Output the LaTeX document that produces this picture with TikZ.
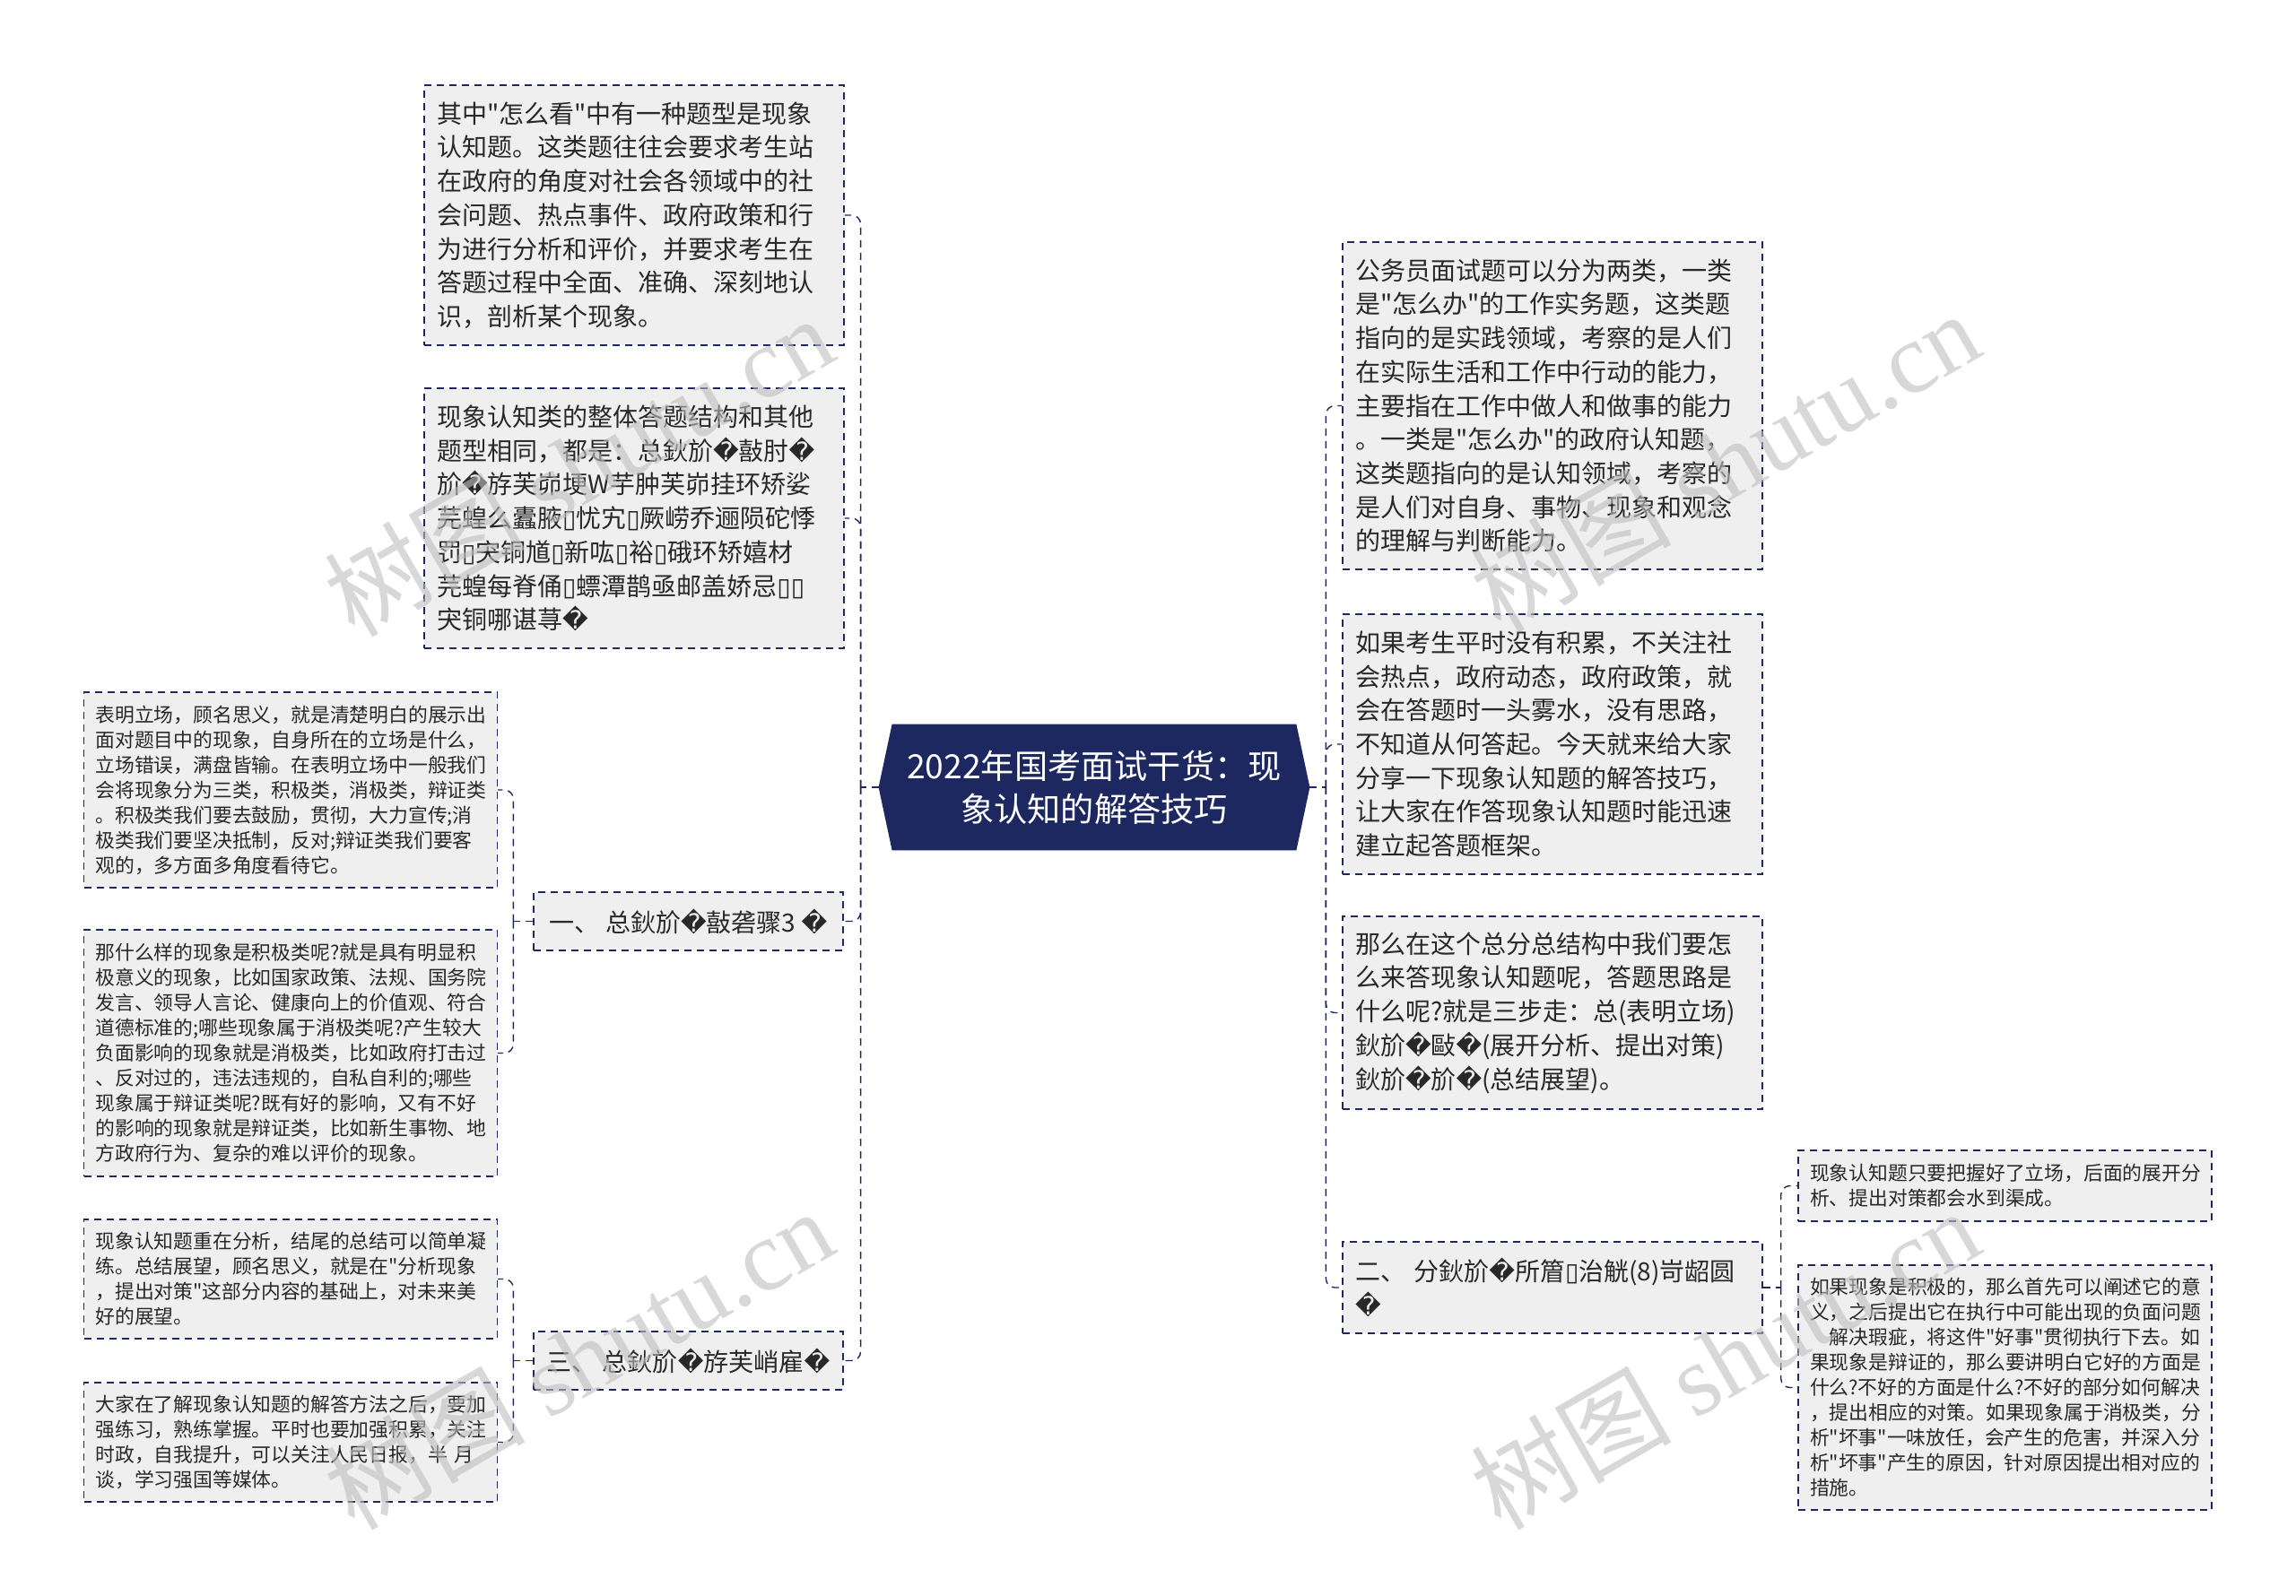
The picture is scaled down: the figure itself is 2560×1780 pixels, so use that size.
\documentclass[tikz,border=0pt]{standalone}
\usepackage{fontspec}
\setmainfont{Noto Sans CJK SC}
\newfontfamily\dvfont{DejaVu Sans}
\newfontfamily\wmfont{Liberation Serif}
\newfontfamily\qfont{Noto Sans CJK SC}
\usetikzlibrary{backgrounds}
\definecolor{navy}{RGB}{29,39,96}
\definecolor{boxgray}{RGB}{239,239,239}
\definecolor{ink}{RGB}{40,40,40}
\definecolor{wmgray}{RGB}{190,190,190}
\newcommand{\repch}{{\dvfont\symbol{"FFFD}}}
\newcommand{\boxch}{{\dvfont\symbol{"25AF}}}
\newcommand{\dq}{{\qfont\symbol{34}}}
\begin{document}
\begin{tikzpicture}[x=0.5pt, y=-0.5pt,
    dashbox/.style={draw=navy, line width=0.7pt, dash pattern=on 4pt off 3pt, fill=boxgray, inner ysep=0pt},
    big node/.style={dashbox, align=left, font=\fontsize{14}{18.85}\selectfont, inner xsep=7pt, text width=220pt},
    small node/.style={dashbox, align=left, font=\fontsize{10.9}{14}\selectfont, inner xsep=6.5pt, text width=217.5pt},
    branch node/.style={dashbox, font=\fontsize{14}{18.85}\selectfont, minimum width=172.5pt, minimum height=32.5pt},
    root node/.style={text=white, align=center, font=\fontsize{18.6}{24}\selectfont, minimum width=240pt, minimum height=70pt},
    link/.style={draw=navy, line width=0.7pt, dash pattern=on 4pt off 3pt, rounded corners=5pt},
    watermark/.style={rotate=30, text=wmgray, opacity=0.6, font=\fontsize{56}{56}\selectfont}]
  \tikzstyle{every node}=[text=ink]
  \useasboundingbox (0,0) rectangle (2560,1780);

  \node[root node] (root) at (1220,878) {2022年国考面试干货：现\\象认知的解答技巧};

  \node[big node, minimum height=145pt] (view) at (707,240) {其中\dq{}怎么看\dq{}中有一种题型是现象\\
认知题。这类题往往会要求考生站\\
在政府的角度对社会各领域中的社\\
会问题、热点事件、政府政策和行\\
为进行分析和评价，并要求考生在\\
答题过程中全面、准确、深刻地认\\
识，剖析某个现象。};
  \node[big node, minimum height=145pt] (frame) at (707,578) {现象认知类的整体答题结构和其他\\
题型相同，都是：总鈥斺\repch 敼肘\repch\\
斺\repch 斿芙峁埂W芋肿芙峁挂环矫娑\\
芫蝗么蠹腋\boxch 忧宄\boxch 厥崂乔逦陨砣悸\\
罚\boxch 宊铜馗\boxch 新吰\boxch 裕\boxch 硪环矫嬉材\\
芫蝗每脊俑\boxch 螵潭鹊亟邮盖娇忌\boxch\boxch\\
宊铜哪谌荨\repch};
  \node[branch node] (stepone) at (767.5,1027.5) {一、 总鈥斺\repch 敼砻骤3 \repch};
  \node[small node, minimum height=109pt] (stance) at (324,881) {表明立场，顾名思义，就是清楚明白的展示出\\
面对题目中的现象，自身所在的立场是什么，\\
立场错误，满盘皆输。在表明立场中一般我们\\
会将现象分为三类，积极类，消极类，辩证类\\
。积极类我们要去鼓励，贯彻，大力宣传;消\\
极类我们要坚决抵制，反对;辩证类我们要客\\
观的，多方面多角度看待它。};
  \node[small node, minimum height=137.5pt] (kinds) at (324,1174.5) {那什么样的现象是积极类呢?就是具有明显积\\
极意义的现象，比如国家政策、法规、国务院\\
发言、领导人言论、健康向上的价值观、符合\\
道德标准的;哪些现象属于消极类呢?产生较大\\
负面影响的现象就是消极类，比如政府打击过\\
、反对过的，违法违规的，自私自利的;哪些\\
现象属于辩证类呢?既有好的影响，又有不好\\
的影响的现象就是辩证类，比如新生事物、地\\
方政府行为、复杂的难以评价的现象。};
  \node[branch node] (stepthree) at (767.5,1517.5) {三、 总鈥斺\repch 斿芙峭雇\repch};
  \node[small node, minimum height=66.5pt] (outlook) at (324,1426.5) {现象认知题重在分析，结尾的总结可以简单凝\\
练。总结展望，顾名思义，就是在\dq{}分析现象\\
，提出对策\dq{}这部分内容的基础上，对未来美\\
好的展望。};
  \node[small node, minimum height=66.5pt] (practice) at (324,1608.5) {大家在了解现象认知题的解答方法之后，要加\\
强练习，熟练掌握。平时也要加强积累，关注\\
时政，自我提升，可以关注人民日报，半 月\\
谈，学习强国等媒体。};

  \node[big node, minimum height=182.5pt] (types) at (1731,452.5) {公务员面试题可以分为两类，一类\\
是\dq{}怎么办\dq{}的工作实务题，这类题\\
指向的是实践领域，考察的是人们\\
在实际生活和工作中行动的能力，\\
主要指在工作中做人和做事的能力\\
。一类是\dq{}怎么办\dq{}的政府认知题，\\
这类题指向的是认知领域，考察的\\
是人们对自身、事物、现象和观念\\
的理解与判断能力。};
  \node[big node, minimum height=145pt] (intro) at (1731,830) {如果考生平时没有积累，不关注社\\
会热点，政府动态，政府政策，就\\
会在答题时一头雾水，没有思路，\\
不知道从何答起。今天就来给大家\\
分享一下现象认知题的解答技巧，\\
让大家在作答现象认知题时能迅速\\
建立起答题框架。};
  \node[big node, minimum height=107.5pt] (steps) at (1731,1129.5) {那么在这个总分总结构中我们要怎\\
么来答现象认知题呢，答题思路是\\
什么呢?就是三步走：总(表明立场)\\
鈥斺\repch 敺\repch(展开分析、提出对策)\\
鈥斺\repch 斺\repch(总结展望)。};
  \node[big node, minimum height=51pt] (steptwo) at (1731,1436) {二、 分鈥斺\repch 所篃\boxch 治觥(8)岢龆圆\\
\repch};
  \node[small node, minimum height=39.5pt] (analyse) at (2235.5,1322.5) {现象认知题只要把握好了立场，后面的展开分\\
析、提出对策都会水到渠成。};
  \node[small node, minimum height=136.5pt] (cases) at (2235.5,1547.5) {如果现象是积极的，那么首先可以阐述它的意\\
义，之后提出它在执行中可能出现的负面问题\\
\hspace*{1em}解决瑕疵，将这件\dq{}好事\dq{}贯彻执行下去。如\\
果现象是辩证的，那么要讲明白它好的方面是\\
什么?不好的方面是什么?不好的部分如何解决\\
，提出相应的对策。如果现象属于消极类，分\\
析\dq{}坏事\dq{}一味放任，会产生的危害，并深入分\\
析\dq{}坏事\dq{}产生的原因，针对原因提出相对应的\\
措施。};

  \begin{pgfonlayer}{background}
    \fill[white] (0,0) rectangle (2560,1780);
    \fill[navy] ([xshift=7.5pt]root.north west) -- ([xshift=-7.5pt]root.north east) -- (root.east)
      -- ([xshift=-7.5pt]root.south east) -- ([xshift=7.5pt]root.south west) -- (root.west) -- cycle;
  \end{pgfonlayer}

  \coordinate (lj) at ([xshift=-10pt]root.west);
  \coordinate (oj) at ([xshift=-11pt]stepone.west);
  \coordinate (tj) at ([xshift=-11pt]stepthree.west);
  \coordinate (rj) at ([xshift=9pt]root.east);
  \coordinate (wj) at ([xshift=10pt]steptwo.east);

  \draw[link] (root.west) -- (lj);
  \foreach \n in {view,frame,stepone,stepthree}
    \draw[link] (lj) |- (\n.east);
  \draw[link] (stepone.west) -- (oj);
  \foreach \n in {stance,kinds}
    \draw[link] (oj) |- (\n.east);
  \draw[link] (stepthree.west) -- (tj);
  \foreach \n in {outlook,practice}
    \draw[link] (tj) |- (\n.east);
  \draw[link] (root.east) -- (rj);
  \foreach \n in {types,intro,steps,steptwo}
    \draw[link] (rj) |- (\n.west);
  \draw[link] (steptwo.east) -- (wj);
  \foreach \n in {analyse,cases}
    \draw[link] (wj) |- (\n.west);

  \foreach \x/\y in {645/519,1923/514,645/1515,1923/1515}
    \node[watermark] at (\x,\y) {树图 {\wmfont shutu.cn}};
\end{tikzpicture}
\end{document}
